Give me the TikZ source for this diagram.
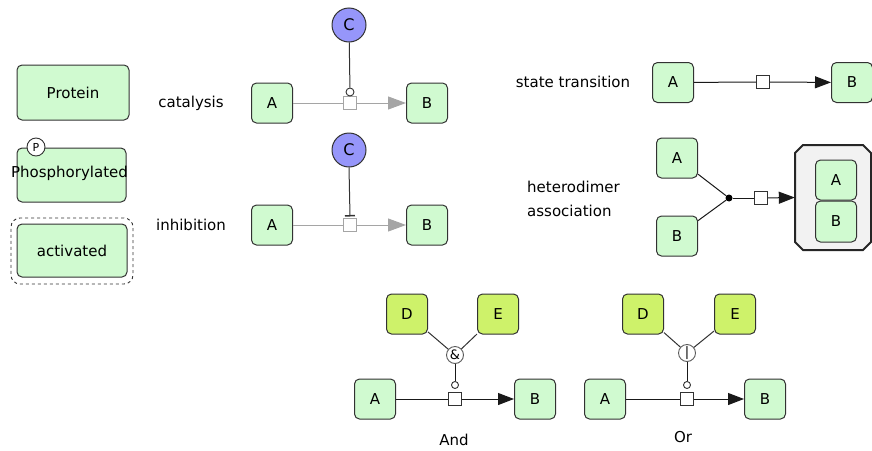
\documentclass[tikz,border=0pt]{standalone}
\usepackage{fontspec}
\setmainfont{DejaVu Sans}
\usetikzlibrary{arrows.meta}
\definecolor{entg}{RGB}{208,250,208}
\definecolor{entd}{RGB}{206,242,106}
\definecolor{cfill}{RGB}{150,150,250}
\definecolor{cxf}{RGB}{242,242,242}
\definecolor{bd}{RGB}{50,50,50}
\definecolor{gl}{RGB}{165,165,165}
\begin{document}
\begin{tikzpicture}[x=1pt,y=-1pt,
  every node/.style={font=\fontsize{15}{17}\selectfont, text=black},
  ent/.style={draw=bd, fill=entg, rounded corners=5pt, line width=1pt,
    minimum width=41pt, minimum height=40pt, inner sep=0pt},
  entdy/.style={ent, fill=entd},
  lbl/.style={inner sep=0pt},
  proc/.style={draw=bd, fill=white, minimum size=13pt, inner sep=0pt, line width=0.9pt},
  modc/.style={circle, draw=bd, fill=white, minimum size=8pt, inner sep=0pt, line width=0.9pt},
  smc/.style={circle, draw=bd, fill=bd!60, minimum size=34pt, inner sep=0pt, line width=1pt,
    font=\fontsize{16}{16}\selectfont},
  logic/.style={circle, draw=bd!80, fill=white, minimum size=17pt, inner sep=0pt, line width=0.9pt,
    font=\fontsize{13}{13}\selectfont},
  ln/.style={draw=black!90, line width=1pt},
  gln/.style={draw=gl, line width=1pt},
  bigtri/.style={-{Triangle[length=16pt,width=12pt]}},
]
\useasboundingbox (0,0) rectangle (872,450);

% legend
\node[ent, minimum width=112pt, minimum height=55pt] (prot) at (73,92.5) {Protein};
\node[ent, minimum width=109pt, minimum height=54pt] (phos) at (71.5,175) {};
\node[lbl] (phostxt) at (69.5,173) {Phosphorylated};
\node[circle, draw=bd, fill=white, minimum size=18pt, inner sep=0pt, line width=0.9pt,
  font=\fontsize{11}{11}\selectfont] (pp) at (36,147) {P};
\node[draw=bd, dashed, rounded corners=9pt, line width=0.9pt,
  minimum width=122pt, minimum height=66pt, inner sep=0pt] (act2) at (72,251) {};
\node[ent, minimum width=110pt, minimum height=53pt] (act) at (72,250.5) {activated};

% catalysis
\node[lbl] (lcat) at (191,103) {catalysis};
\node[ent] (cA) at (272,103) {A};
\node[ent] (cB) at (427,103) {B};
\node[smc, fill=cfill] (cC) at (349,25) {C};
\node[proc, draw=gl] (cP) at (350,103) {};
\node[modc] (cM) at (350,92) {};
\draw[gln] (cA) -- (cP);
\draw[gln, -{Triangle[length=18pt,width=13pt]}] (cP) -- (cB);
\draw[ln, draw=bd] (cC) -- (cM);

% inhibition
\node[lbl] (linh) at (191,225) {inhibition};
\node[ent] (iA) at (272,225) {A};
\node[ent] (iB) at (427,225) {B};
\node[smc, fill=cfill] (iC) at (349,150) {C};
\node[proc, draw=gl] (iP) at (350,225) {};
\coordinate (iE) at (350,216.5);
\draw[gln] (iA) -- (iP);
\draw[gln, -{Triangle[length=18pt,width=13pt]}] (iP) -- (iB);
\draw[ln, draw=bd, -{Bar[width=10pt,line width=1.5pt]}] (iC.south) -- (iE);

% state transition
\node[lbl] (lst) at (573,82) {state transition};
\node[ent] (sA) at (673,82.5) {A};
\node[ent] (sB) at (852,82.5) {B};
\node[proc] (sP) at (763,82) {};
\draw[ln] (sA) -- (sP);
\draw[ln, bigtri] (sP) -- (sB);

% heterodimer association
\node[lbl, anchor=west, align=left, font=\fontsize{15}{24}\selectfont] (lhet) at (527,198.5) {heterodimer\\association};
\node[ent] (hA) at (677,158) {A};
\node[ent] (hB) at (677,236) {B};
\node[circle, fill=black, minimum size=7pt, inner sep=0pt] (hD) at (729,198) {};
\node[proc] (hP) at (761,198) {};
\filldraw[draw=black!85, fill=cxf, line width=2pt]
  (803,145) -- (863,145) -- (871,153) -- (871,242) -- (863,250) -- (803,250)
  -- (795,242) -- (795,153) -- cycle;
\node[inner sep=0pt, minimum width=76pt, minimum height=105pt] (cx) at (833,197.5) {};
\node[ent] (xA) at (836,180) {A};
\node[ent, minimum height=41pt] (xB) at (836,221.5) {B};
\draw[ln] (hA) -- (hD);
\draw[ln] (hB) -- (hD);
\draw[ln] (hD) -- (hP);
\draw[ln, bigtri] (hP) -- (cx.west);

% And
\node[entdy] (aD) at (407,314) {D};
\node[entdy] (aE) at (498,314) {E};
\node[logic] (aL) at (455,355) {\&};
\node[modc, minimum size=7pt] (aM) at (455,385) {};
\node[proc] (aP) at (455,399) {};
\node[ent] (aA) at (375,399) {A};
\node[ent] (aB) at (535,399) {B};
\node[lbl] (land) at (454,440) {And};
\draw[ln, draw=bd] (aD) -- (aL);
\draw[ln, draw=bd] (aE) -- (aL);
\draw[ln] (aL) -- (aM);
\draw[ln] (aA) -- (aP);
\draw[ln, bigtri] (aP) -- (aB);

% Or
\node[entdy] (oD) at (643,314) {D};
\node[entdy] (oE) at (735,314) {E};
\node[logic] (oL) at (687,353) {|};
\node[modc, minimum size=7pt] (oM) at (687,385) {};
\node[proc] (oP) at (687,399) {};
\node[ent] (oA) at (605,399) {A};
\node[ent] (oB) at (765,399) {B};
\node[lbl] (lor) at (683,437) {Or};
\draw[ln, draw=bd] (oD) -- (oL);
\draw[ln, draw=bd] (oE) -- (oL);
\draw[ln] (oL) -- (oM);
\draw[ln] (oA) -- (oP);
\draw[ln, bigtri] (oP) -- (oB);
\end{tikzpicture}
\end{document}
